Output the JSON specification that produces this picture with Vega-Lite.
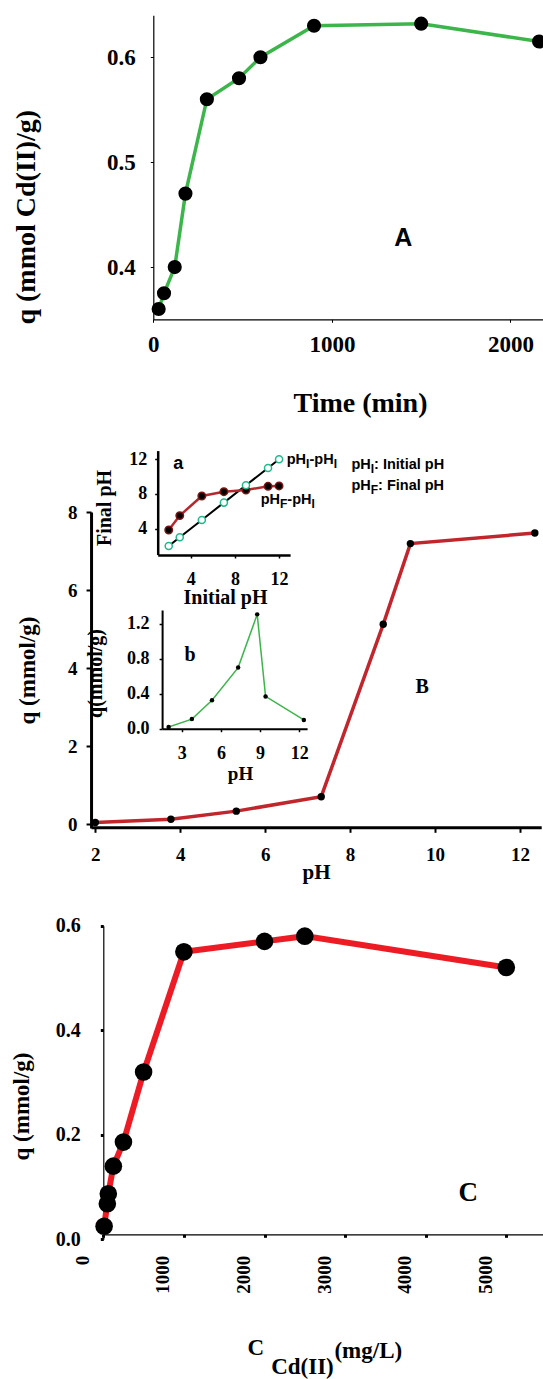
{
  "$schema": "https://vega.github.io/schema/vega-lite/v6.json",
  "width": 543,
  "height": 1379,
  "padding": 0,
  "autosize": {"type": "none"},
  "background": "white",
  "config": {
    "view": {"stroke": null},
    "axis": {
      "grid": false,
      "labelFont": "Liberation Serif",
      "labelFontWeight": "bold",
      "labelColor": "black",
      "titleFont": "Liberation Serif",
      "titleFontWeight": "bold",
      "titleColor": "black",
      "domainColor": "black",
      "tickColor": "black",
      "labelFlush": false,
      "labelOverlap": false,
      "titleBaseline": "middle",
      "titleAlign": "center"
    }
  },
  "datasets": {
    "A": [
      {"time": 30, "q": 0.36}, {"time": 60, "q": 0.375}, {"time": 120, "q": 0.40},
      {"time": 180, "q": 0.47}, {"time": 300, "q": 0.56}, {"time": 480, "q": 0.58},
      {"time": 600, "q": 0.60}, {"time": 900, "q": 0.63}, {"time": 1500, "q": 0.632},
      {"time": 2160, "q": 0.615}
    ],
    "A_label": [{"time": 1400, "q": 0.4276, "label": "A"}],
    "B": [
      {"pH": 2.0, "q": 0.04}, {"pH": 3.78, "q": 0.12}, {"pH": 5.32, "q": 0.33},
      {"pH": 7.32, "q": 0.70}, {"pH": 8.78, "q": 5.12}, {"pH": 9.42, "q": 7.19},
      {"pH": 12.35, "q": 7.46}
    ],
    "B_label": [{"pH": 9.70, "q": 3.52, "label": "B"}],
    "B_legend_main": [
      {"pH": 8.031, "q": 9.205, "label": "pH"},
      {"pH": 8.564, "q": 9.205, "label": ": Initial pH"},
      {"pH": 8.031, "q": 8.667, "label": "pH"},
      {"pH": 8.658, "q": 8.667, "label": ": Final pH"}
    ],
    "B_legend_sub": [
      {"pH": 8.486, "q": 9.103, "label": "I"},
      {"pH": 8.486, "q": 8.564, "label": "F"}
    ],
    "a_F": [
      {"initial_pH": 2, "final_pH": 3.84}, {"initial_pH": 3, "final_pH": 5.5},
      {"initial_pH": 5, "final_pH": 7.76}, {"initial_pH": 7, "final_pH": 8.26},
      {"initial_pH": 9, "final_pH": 8.45}, {"initial_pH": 11, "final_pH": 8.88},
      {"initial_pH": 12, "final_pH": 8.92}
    ],
    "a_I": [
      {"initial_pH": 2, "final_pH": 2}, {"initial_pH": 3, "final_pH": 3},
      {"initial_pH": 5, "final_pH": 5}, {"initial_pH": 7, "final_pH": 7},
      {"initial_pH": 9, "final_pH": 9}, {"initial_pH": 11, "final_pH": 11},
      {"initial_pH": 12, "final_pH": 12}
    ],
    "a_label": [{"initial_pH": 2.87, "final_pH": 11.45, "label": "a"}],
    "a_legend_main": [
      {"initial_pH": 12.695, "final_pH": 11.91, "label": "pH"},
      {"initial_pH": 14.762, "final_pH": 11.91, "label": "-pH"},
      {"initial_pH": 10.338, "final_pH": 7.30, "label": "pH"},
      {"initial_pH": 12.75, "final_pH": 7.30, "label": "-pH"}
    ],
    "a_legend_sub": [
      {"initial_pH": 14.445, "final_pH": 11.45, "label": "I"},
      {"initial_pH": 16.956, "final_pH": 11.45, "label": "I"},
      {"initial_pH": 12.088, "final_pH": 6.84, "label": "F"},
      {"initial_pH": 14.944, "final_pH": 6.84, "label": "I"}
    ],
    "b": [
      {"pH": 2.0, "q": 0.02}, {"pH": 3.78, "q": 0.11}, {"pH": 5.32, "q": 0.325},
      {"pH": 7.32, "q": 0.70}, {"pH": 8.78, "q": 1.31}, {"pH": 9.42, "q": 0.37},
      {"pH": 12.35, "q": 0.10}
    ],
    "b_label": [{"pH": 3.64, "q": 0.844, "label": "b"}],
    "C": [
      {"conc": 10, "q": 0.025}, {"conc": 50, "q": 0.068}, {"conc": 62, "q": 0.087},
      {"conc": 125, "q": 0.14}, {"conc": 250, "q": 0.186}, {"conc": 500, "q": 0.32},
      {"conc": 1000, "q": 0.55}, {"conc": 2000, "q": 0.57}, {"conc": 2500, "q": 0.58},
      {"conc": 5000, "q": 0.52}
    ],
    "C_label": [{"conc": 4529, "q": 0.088, "label": "C"}],
    "C_title": [
      {"conc": 1891, "q": -0.2085, "label": "C"},
      {"conc": 2471, "q": -0.245, "label": "Cd(II)"},
      {"conc": 3288, "q": -0.213, "label": "(mg/L)"}
    ]
  },
  "layer": [
    {
      "data": {"name": "A"},
      "encoding": {
        "x": {
          "field": "time", "type": "quantitative",
          "scale": {"domain": [0, 2200], "range": [153.3, 546.2], "nice": false, "zero": false},
          "axis": {
            "orient": "bottom", "offset": -1059.7, "values": [0, 1000, 2000], "format": "d",
            "labelFontSize": 23, "tickSize": 3, "labelPadding": 11, "domainWidth": 1.2,
            "title": "Time (min)", "titleFontSize": 28, "titleX": 360, "titleY": 83.7
          }
        },
        "y": {
          "field": "q", "type": "quantitative",
          "scale": {"domain": [0.35, 0.64], "range": [319.5, 15.3], "nice": false, "zero": false},
          "axis": {
            "orient": "left", "offset": -153.3, "values": [0.4, 0.5, 0.6], "format": ".1f",
            "labelFontSize": 23, "tickSize": 3, "labelPadding": 15, "domainWidth": 1.2,
            "title": "q (mmol Cd(II)/g)", "titleFontSize": 28, "titleX": -127.3, "titleY": 216.7
          }
        }
      },
      "layer": [
        {"mark": {"type": "line", "color": "#3cb64a", "strokeWidth": 3.5}, "encoding": {}},
        {"mark": {"type": "circle", "color": "black", "size": 200, "opacity": 1}, "encoding": {}},
        {
          "data": {"name": "A_label"},
          "mark": {"type": "text", "font": "Liberation Sans", "fontWeight": "bold", "fontSize": 25, "align": "center", "baseline": "middle", "color": "black"},
          "encoding": {"text": {"field": "label"}}
        }
      ]
    },
    {
      "data": {"name": "B"},
      "encoding": {
        "x": {
          "field": "pH", "type": "quantitative",
          "scale": {"domain": [1.9, 12.5], "range": [91.05, 541.2], "nice": false, "zero": false},
          "axis": {
            "orient": "bottom", "offset": -551.7, "values": [2, 4, 6, 8, 10, 12], "format": "d",
            "labelFontSize": 19, "tickSize": 5, "tickWidth": 2, "labelPadding": 13, "domainWidth": 3,
            "title": "pH", "titleFontSize": 21, "titleX": 316, "titleY": 44.7
          }
        },
        "y": {
          "field": "q", "type": "quantitative",
          "scale": {"domain": [-0.1, 8], "range": [827.9, 512], "nice": false, "zero": false},
          "axis": {
            "orient": "left", "offset": -91.05, "values": [0, 2, 4, 6, 8], "format": "d",
            "labelFontSize": 19, "tickSize": 5, "tickWidth": 2, "labelPadding": 9, "domainWidth": 3,
            "title": "q (mmol/g)", "titleFontSize": 23, "titleX": -63.7, "titleY": 670
          }
        }
      },
      "layer": [
        {"mark": {"type": "line", "color": "#c0262c", "strokeWidth": 3.5}, "encoding": {}},
        {"mark": {"type": "circle", "color": "black", "size": 55, "opacity": 1}, "encoding": {}},
        {
          "data": {"name": "B_label"},
          "mark": {"type": "text", "font": "Liberation Serif", "fontWeight": "bold", "fontSize": 20, "align": "center", "baseline": "middle", "color": "black"},
          "encoding": {"text": {"field": "label"}}
        },
        {
          "data": {"name": "B_legend_main"},
          "mark": {"type": "text", "font": "Liberation Sans", "fontWeight": "bold", "fontSize": 14.5, "align": "left", "baseline": "middle", "color": "black"},
          "encoding": {"text": {"field": "label"}}
        },
        {
          "data": {"name": "B_legend_sub"},
          "mark": {"type": "text", "font": "Liberation Sans", "fontWeight": "bold", "fontSize": 12, "align": "left", "baseline": "middle", "color": "black"},
          "encoding": {"text": {"field": "label"}}
        }
      ]
    },
    {
      "encoding": {
        "x": {
          "field": "initial_pH", "type": "quantitative",
          "scale": {"domain": [1, 13], "range": [157.7, 290.1], "nice": false, "zero": false},
          "axis": {
            "orient": "bottom", "offset": -824, "values": [4, 8, 12], "format": "d",
            "labelFontSize": 18, "tickSize": 3, "tickWidth": 1.5, "labelPadding": 12, "domainWidth": 2.5,
            "title": "Initial pH", "titleFontSize": 20, "titleX": 225, "titleY": 42.7
          }
        },
        "y": {
          "field": "final_pH", "type": "quantitative",
          "scale": {"domain": [1, 13], "range": [554.6, 450.6], "nice": false, "zero": false},
          "axis": {
            "orient": "left", "offset": -157.7, "values": [4, 8, 12], "format": "d",
            "labelFontSize": 18, "tickSize": 3, "tickWidth": 1.5, "labelPadding": 8, "domainWidth": 2.5,
            "title": "Final pH", "titleFontSize": 20, "titleX": -53.7, "titleY": 507.5
          }
        }
      },
      "layer": [
        {"data": {"name": "a_I"}, "mark": {"type": "line", "color": "black", "strokeWidth": 2}, "encoding": {}},
        {"data": {"name": "a_F"}, "mark": {"type": "line", "color": "#b5292e", "strokeWidth": 2.5}, "encoding": {}},
        {"data": {"name": "a_F"}, "mark": {"type": "point", "filled": true, "fill": "black", "stroke": "#7a1414", "strokeWidth": 1.5, "size": 55, "opacity": 1, "shape": "circle"}, "encoding": {}},
        {"data": {"name": "a_I"}, "mark": {"type": "point", "filled": true, "fill": "white", "stroke": "#20b98a", "strokeWidth": 1.5, "size": 50, "opacity": 1, "shape": "circle"}, "encoding": {}},
        {
          "data": {"name": "a_label"},
          "mark": {"type": "text", "font": "Liberation Sans", "fontWeight": "bold", "fontSize": 18, "align": "center", "baseline": "middle", "color": "black"},
          "encoding": {"text": {"field": "label"}}
        },
        {
          "data": {"name": "a_legend_main"},
          "mark": {"type": "text", "font": "Liberation Sans", "fontWeight": "bold", "fontSize": 14.5, "align": "left", "baseline": "middle", "color": "black"},
          "encoding": {"text": {"field": "label"}}
        },
        {
          "data": {"name": "a_legend_sub"},
          "mark": {"type": "text", "font": "Liberation Sans", "fontWeight": "bold", "fontSize": 12, "align": "left", "baseline": "middle", "color": "black"},
          "encoding": {"text": {"field": "label"}}
        }
      ]
    },
    {
      "data": {"name": "b"},
      "encoding": {
        "x": {
          "field": "pH", "type": "quantitative",
          "scale": {"domain": [1.5, 12.6], "range": [162.1, 307.1], "nice": false, "zero": false},
          "axis": {
            "orient": "bottom", "offset": -650.3, "values": [3, 6, 9, 12], "format": "d",
            "labelFontSize": 18, "tickSize": 3, "tickWidth": 1.5, "labelPadding": 13, "domainWidth": 2,
            "title": "pH", "titleFontSize": 19, "titleX": 240, "titleY": 44.6
          }
        },
        "y": {
          "field": "q", "type": "quantitative",
          "scale": {"domain": [0, 1.36], "range": [728.7, 610], "nice": false, "zero": false},
          "axis": {
            "orient": "left", "offset": -162.1, "values": [0, 0.4, 0.8, 1.2], "format": ".1f",
            "labelFontSize": 18, "tickSize": 3, "tickWidth": 1.5, "labelPadding": 10, "domainWidth": 2,
            "title": "q(mmol/g)", "titleFontSize": 20, "titleX": -67, "titleY": 673
          }
        }
      },
      "layer": [
        {"mark": {"type": "line", "color": "#3cb64a", "strokeWidth": 1.5}, "encoding": {}},
        {"mark": {"type": "circle", "color": "black", "size": 20, "opacity": 1}, "encoding": {}},
        {
          "data": {"name": "b_label"},
          "mark": {"type": "text", "font": "Liberation Serif", "fontWeight": "bold", "fontSize": 20, "align": "center", "baseline": "middle", "color": "black"},
          "encoding": {"text": {"field": "label"}}
        }
      ]
    },
    {
      "data": {"name": "C"},
      "encoding": {
        "x": {
          "field": "conc", "type": "quantitative",
          "scale": {"domain": [0, 5500], "range": [103.3, 546.6], "nice": false, "zero": false},
          "axis": {
            "orient": "bottom", "offset": -144.7, "values": [0, 1000, 2000, 3000, 4000, 5000], "format": "d",
            "labelFontSize": 19, "labelAngle": 270, "labelOffset": -21, "tickSize": 3, "tickWidth": 3,
            "labelPadding": 18, "domainWidth": 1.2, "title": null
          }
        },
        "y": {
          "field": "q", "type": "quantitative",
          "scale": {"domain": [0, 0.6], "range": [1239.3, 925.7], "nice": false, "zero": false},
          "axis": {
            "orient": "left", "offset": -103.3, "values": [0, 0.2, 0.4, 0.6], "format": ".1f",
            "labelFontSize": 20, "tickSize": 3, "tickWidth": 3, "labelPadding": 20, "domainWidth": 1.2,
            "title": "q (mmol/g)", "titleFontSize": 23, "titleX": -81.6, "titleY": 1106
          }
        }
      },
      "layer": [
        {"mark": {"type": "line", "color": "#ed1c24", "strokeWidth": 6}, "encoding": {}},
        {"mark": {"type": "circle", "color": "black", "size": 310, "opacity": 1}, "encoding": {}},
        {
          "data": {"name": "C_label"},
          "mark": {"type": "text", "font": "Liberation Serif", "fontWeight": "bold", "fontSize": 27, "align": "center", "baseline": "middle", "color": "black"},
          "encoding": {"text": {"field": "label"}}
        },
        {
          "data": {"name": "C_title"},
          "mark": {"type": "text", "font": "Liberation Serif", "fontWeight": "bold", "fontSize": 23, "align": "center", "baseline": "middle", "color": "black"},
          "encoding": {"text": {"field": "label"}}
        }
      ]
    }
  ],
  "resolve": {
    "scale": {"x": "independent", "y": "independent"},
    "axis": {"x": "independent", "y": "independent"}
  }
}
